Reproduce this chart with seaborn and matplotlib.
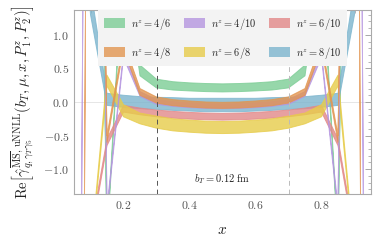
import matplotlib
matplotlib.use("Agg")
import matplotlib.pyplot as plt
from matplotlib.patches import Patch
from matplotlib.ticker import MultipleLocator, FuncFormatter
import numpy as np
import seaborn as sns

sns.set_theme(style="white")
plt.rcParams["mathtext.fontset"] = "cm"
plt.rcParams["font.family"] = ["DejaVu Serif"]

x = [0.05, 0.10, 0.15, 0.20, 0.25, 0.30, 0.35, 0.40, 0.45, 0.50,
     0.55, 0.60, 0.65, 0.70, 0.75, 0.80, 0.85, 0.90, 0.95]

labels = [r"$n^z=4/6$", r"$n^z=4/8$", r"$n^z=4/10$",
          r"$n^z=6/8$", r"$n^z=6/10$", r"$n^z=8/10$"]
colors = ["#7ccd95", "#e29550", "#b595e0", "#e7cc4a", "#e28888", "#7cb5ce"]

# band centres and half widths for each ratio
g46 = [9.0, 13.5, -2.05, 2.2, 0.47, 0.275, 0.24, 0.225, 0.215, 0.21,
       0.215, 0.225, 0.24, 0.275, 0.47, 2.2, -2.05, 13.5, 9.0]
g46_err = [0.05, 0.05, 0.05, 0.08, 0.08, 0.065, 0.062, 0.06, 0.06, 0.06,
           0.06, 0.06, 0.062, 0.065, 0.08, 0.08, 0.05, 0.05, 0.05]
g48 = [-30.0, 15.0, -0.55, 0.85, 0.15, 0.03, -0.01, -0.03, -0.045, -0.05,
       -0.045, -0.03, -0.01, 0.03, 0.15, 0.85, -0.55, 15.0, -30.0]
g48_err = [0.05, 0.05, 0.05, 0.05, 0.05, 0.045, 0.045, 0.045, 0.045, 0.045,
           0.045, 0.045, 0.045, 0.045, 0.05, 0.05, 0.05, 0.05, 0.05]
g410 = [-20.0, 20.0, -1.6, 0.7, 0.12, 0.0, -0.03, -0.05, -0.06, -0.065,
        -0.06, -0.05, -0.03, 0.0, 0.12, 0.7, -1.6, 20.0, -20.0]
g410_err = [0.05, 0.05, 0.04, 0.04, 0.035, 0.035, 0.035, 0.035, 0.035, 0.035,
            0.035, 0.035, 0.035, 0.035, 0.035, 0.04, 0.04, 0.05, 0.05]
g68 = [-5.0, -2.3, 0.32, -0.13, -0.245, -0.3, -0.34, -0.36, -0.375, -0.38,
       -0.375, -0.36, -0.34, -0.3, -0.245, -0.13, 0.32, -2.3, -5.0]
g68_err = [0.05, 0.05, 0.08, 0.09, 0.08, 0.09, 0.09, 0.09, 0.09, 0.09,
           0.09, 0.09, 0.09, 0.09, 0.08, 0.09, 0.08, 0.05, 0.05]
g610 = [-6.0, -2.0, -0.6, -0.1, -0.14, -0.17, -0.19, -0.205, -0.215, -0.22,
        -0.215, -0.205, -0.19, -0.17, -0.14, -0.1, -0.6, -2.0, -6.0]
g610_err = [0.05, 0.05, 0.05, 0.05, 0.05, 0.05, 0.05, 0.05, 0.05, 0.05,
            0.05, 0.05, 0.05, 0.05, 0.05, 0.05, 0.05, 0.05, 0.05]
g810 = [5.0, 1.5, 0.04, 0.01, -0.01, -0.02, -0.03, -0.04, -0.045, -0.045,
        -0.045, -0.04, -0.03, -0.02, -0.01, 0.01, 0.04, 1.5, 5.0]
g810_err = [0.2, 0.2, 0.09, 0.09, 0.09, 0.09, 0.095, 0.095, 0.1, 0.1,
            0.1, 0.095, 0.095, 0.09, 0.09, 0.09, 0.09, 0.2, 0.2]

bands = [(g46, g46_err), (g48, g48_err), (g410, g410_err),
         (g68, g68_err), (g610, g610_err), (g810, g810_err)]
draw_order = [0, 5, 4, 3, 2, 1]

fig = plt.figure(figsize=(3.82, 2.43), dpi=100)
ax = fig.add_axes([74 / 382, 49 / 243, 297 / 382, 184 / 243])

ax.axhline(0, color="#e6e6e6", lw=0.7, zorder=0)
for i in draw_order:
    c, e = np.array(bands[i][0]), np.array(bands[i][1])
    ax.fill_between(x, c - e, c + e, color=colors[i], alpha=0.8, lw=0.7, zorder=2)

ax.axvline(0.3, color="#555555", lw=0.7, ls=(0, (5, 4)), zorder=3)
ax.axvline(0.7, color="#bbbbbb", lw=0.7, ls=(0, (5, 4)), zorder=3)

ax.set_xlim(0.05, 0.95)
ax.set_ylim(-1.37, 1.37)
ax.xaxis.set_major_locator(MultipleLocator(0.2))
ax.xaxis.set_minor_locator(MultipleLocator(0.05))
ax.yaxis.set_major_locator(MultipleLocator(0.5))
ax.yaxis.set_minor_locator(MultipleLocator(0.1))
fmt = FuncFormatter(lambda v, _: f"${v:.1f}$")
ax.xaxis.set_major_formatter(fmt)
ax.yaxis.set_major_formatter(fmt)
ax.tick_params(which="both", direction="in", top=True, right=True,
               color="#999999", labelcolor="#555555", labelsize=8.5)
ax.tick_params(which="major", length=4, width=0.6)
ax.tick_params(which="minor", length=2, width=0.5)
for s in ax.spines.values():
    s.set_color("#aaaaaa")
    s.set_linewidth(0.8)

ax.text(0.5, -1.15, r"$b_T=0.12\ \mathrm{fm}$", ha="center", va="center",
        fontsize=7.5, color="#222222")
ax.set_xlabel(r"$x$", fontsize=11, labelpad=8, color="#222222")
ax.set_ylabel(r"$\mathrm{Re}\left[\hat{\gamma}^{\overline{\rm MS},\,{\rm uNNLL}}_{q,\gamma_T\gamma_5}(b_T,\mu,x,P_1^z,P_2^z)\right]$",
              fontsize=10.5, labelpad=5, color="#222222")

handles = [Patch(facecolor=c, alpha=0.8, edgecolor="none") for c in colors]
leg = ax.legend(handles, labels, ncol=3, loc="upper center", fontsize=7.5,
                frameon=True, facecolor="#f3f3f3", edgecolor="none", framealpha=1,
                fancybox=False, borderaxespad=0, handlelength=2.0, handleheight=1.15,
                labelspacing=1.25, columnspacing=1.25, borderpad=0.55, handletextpad=0.6)
leg.set_zorder(5)

fig.savefig("out.png", dpi=100)
